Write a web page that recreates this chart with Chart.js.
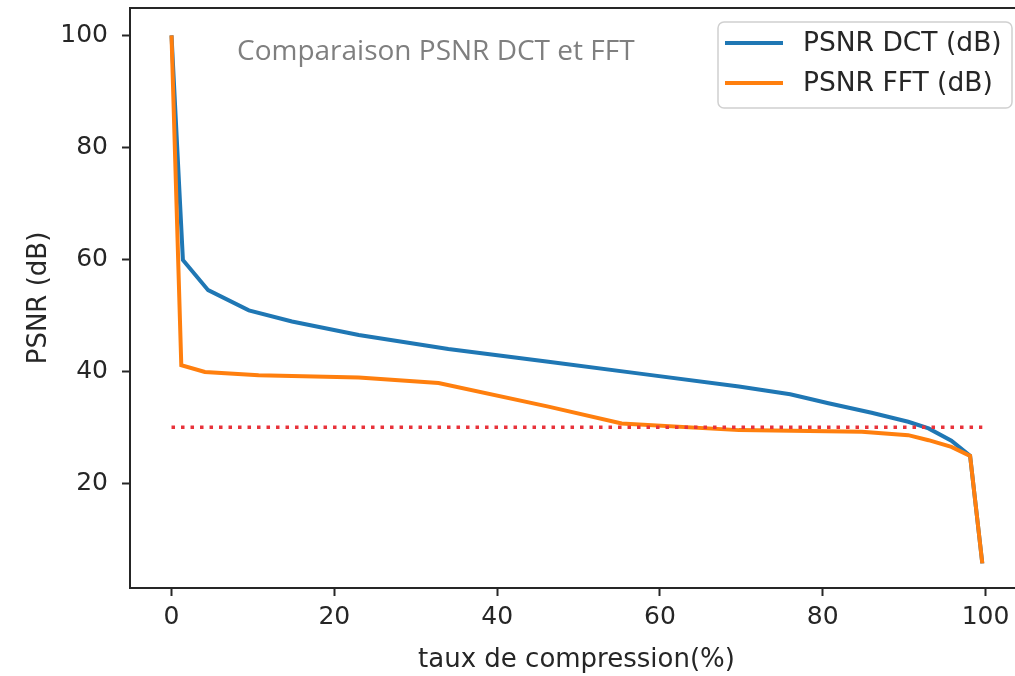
<!DOCTYPE html>
<html>
<head>
<meta charset="utf-8">
<script src="https://cdn.jsdelivr.net/npm/chart.js@4.4.0/dist/chart.umd.min.js"></script>
<style>
  html, body { margin: 0; padding: 0; background: #fff; }
  #wrap { width: 1015px; height: 676px; overflow: hidden; }
</style>
</head>
<body>
<div id="wrap"><canvas id="psnrChart"></canvas></div>
<script>
  // taux de compression (%) et PSNR (dB)
  const tauxDct = [0, 1.4, 4.5, 9.5, 14.8, 23, 34, 46.3, 58, 69.7, 76, 80.7, 86, 90.5, 93, 95.8, 98.1, 99.6];
  const psnrDct = [100, 59.9, 54.5, 50.9, 48.9, 46.5, 44.0, 41.7, 39.5, 37.3, 35.9, 34.3, 32.6, 31.0, 29.8, 27.6, 24.9, 5.7];
  const tauxFft = [0, 1.2, 4.1, 10.7, 23, 32.8, 46.3, 55.3, 69.7, 84.8, 90.5, 93, 95.8, 98.1, 99.6];
  const psnrFft = [100, 41.1, 39.9, 39.3, 38.9, 37.9, 33.7, 30.7, 29.5, 29.2, 28.6, 27.7, 26.5, 24.9, 5.7];
  // seuil a 30 dB
  const tauxSeuil = [0, 99.6];
  const psnrSeuil = [30, 30];

  const xTicks = [0, 20, 40, 60, 80, 100];
  const yTicks = [20, 40, 60, 80, 100];
  const titre = 'Comparaison PSNR DCT et FFT';

  const toPoints = (xs, ys) => xs.map((x, i) => ({ x: x, y: ys[i] }));

  const axisColor = '#262626';
  const tickFont = { family: 'DejaVu Sans', size: 25 };
  const labelFont = { family: 'DejaVu Sans', size: 26 };

  // cadre, titre et legende dans la zone du graphique
  const decorPlugin = {
    id: 'decor',
    afterDraw(chart) {
      const ctx = chart.ctx;
      const a = chart.chartArea;
      ctx.save();
      ctx.strokeStyle = axisColor;
      ctx.lineWidth = 2;
      ctx.strokeRect(a.left, a.top, a.right - a.left, a.bottom - a.top);

      // titre gris
      ctx.fillStyle = '#7f7f7f';
      ctx.font = '28px "Open Sans"';
      ctx.textBaseline = 'middle';
      ctx.textAlign = 'left';
      ctx.fillText(titre, a.left + 107, a.top + 44);

      // legende
      const items = chart.data.datasets.filter(d => !d.noLegend);
      const bw = 294, bh = 86;
      const bx = a.right - 11 - bw, by = a.top + 14;
      ctx.beginPath();
      ctx.roundRect(bx, by, bw, bh, 6);
      ctx.fillStyle = 'rgba(255,255,255,0.8)';
      ctx.fill();
      ctx.strokeStyle = '#d0d0d0';
      ctx.lineWidth = 1.5;
      ctx.stroke();
      ctx.font = '26.5px "DejaVu Sans"';
      items.forEach((d, i) => {
        const y = by + 21 + i * 40;
        ctx.beginPath();
        ctx.moveTo(bx + 7, y);
        ctx.lineTo(bx + 65, y);
        ctx.strokeStyle = d.borderColor;
        ctx.lineWidth = 4;
        ctx.stroke();
        ctx.fillStyle = axisColor;
        ctx.fillText(d.label, bx + 85, y + 1);
      });
      ctx.restore();
    }
  };

  const data = {
    datasets: [
      {
        label: 'seuil',
        noLegend: true,
        data: toPoints(tauxSeuil, psnrSeuil),
        borderColor: '#e8323a',
        borderWidth: 3.5,
        borderDash: [3.5, 6],
        pointRadius: 0,
        order: 0
      },
      {
        label: 'PSNR DCT (dB)',
        data: toPoints(tauxDct, psnrDct),
        borderColor: '#1f77b4',
        borderWidth: 4,
        pointRadius: 0,
        tension: 0,
        order: 2
      },
      {
        label: 'PSNR FFT (dB)',
        data: toPoints(tauxFft, psnrFft),
        borderColor: '#ff7f0e',
        borderWidth: 4,
        pointRadius: 0,
        tension: 0,
        order: 1
      }
    ]
  };

  const config = {
    type: 'line',
    data: data,
    options: {
      responsive: false,
      animation: false,
      layout: { padding: { top: 8, right: 7, left: 0, bottom: 0 } },
      plugins: {
        legend: { display: false },
        tooltip: { enabled: false }
      },
      scales: {
        x: {
          type: 'linear',
          min: -5.1,
          max: 104.6,
          afterFit: s => { s.height = 88; s.paddingLeft = 0; s.paddingRight = 0; },
          afterBuildTicks: s => { s.ticks = xTicks.map(v => ({ value: v })); },
          grid: { drawOnChartArea: false, drawTicks: true, tickLength: 8, tickWidth: 2, tickColor: axisColor },
          border: { display: false },
          ticks: { font: tickFont, color: axisColor, padding: 6, maxRotation: 0 },
          title: {
            display: true,
            text: 'taux de compression(%)',
            font: labelFont,
            color: axisColor,
            padding: { top: 0, bottom: 0 }
          }
        },
        y: {
          min: 1.3,
          max: 104.9,
          afterFit: s => { s.width = 130; s.paddingTop = 0; s.paddingBottom = 0; },
          afterBuildTicks: s => { s.ticks = yTicks.map(v => ({ value: v })); },
          grid: { drawOnChartArea: false, drawTicks: true, tickLength: 8, tickWidth: 2, tickColor: axisColor },
          border: { display: false },
          ticks: { font: tickFont, color: axisColor, padding: 14 },
          title: {
            display: true,
            text: 'PSNR (dB)',
            font: labelFont,
            color: axisColor,
            padding: { top: 24, bottom: 0 }
          }
        }
      }
    },
    plugins: [decorPlugin]
  };

  const canvas = document.getElementById('psnrChart');
  canvas.width = 1030;
  canvas.height = 676;
  const psnrChart = new Chart(canvas, config);
</script>
</body>
</html>
